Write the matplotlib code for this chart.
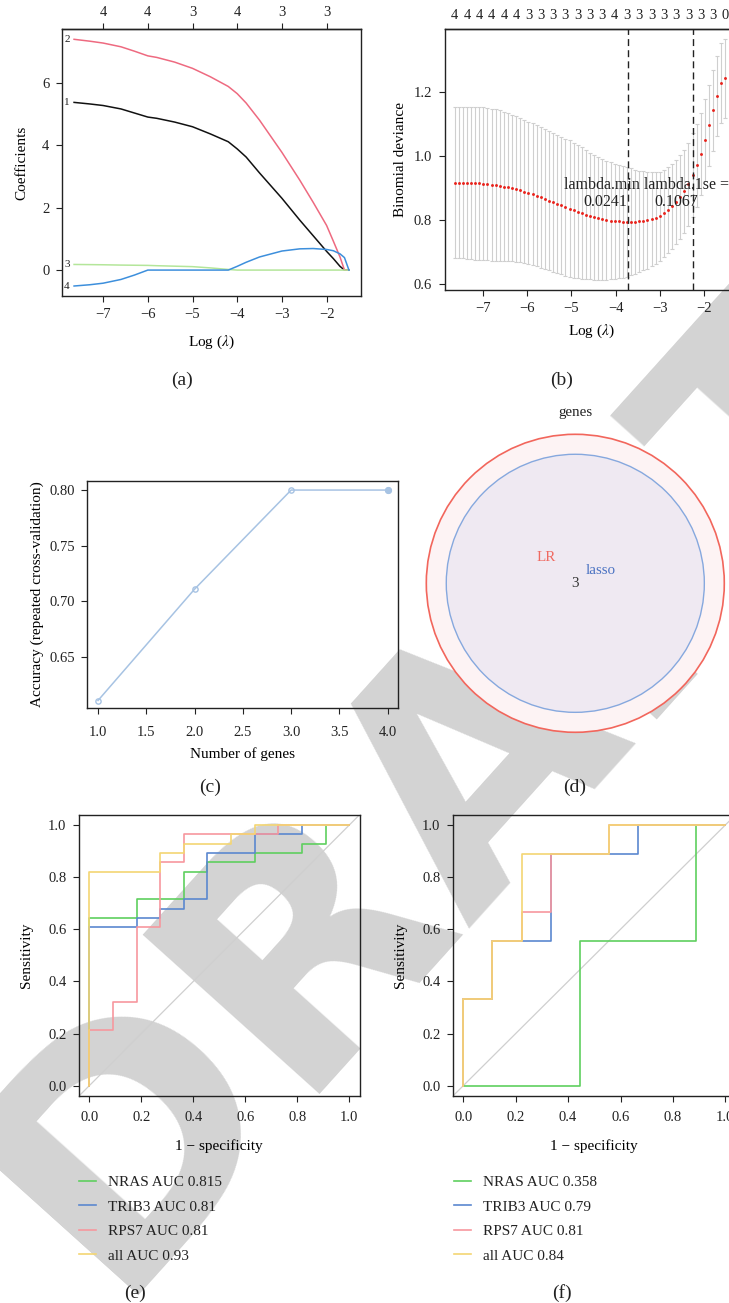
import numpy as np
import matplotlib
matplotlib.use("Agg")
import matplotlib.pyplot as plt
from matplotlib.patches import Circle
from matplotlib.lines import Line2D

W, H = 729, 1303

# (a) lasso coefficient paths
path_loglam = [-7.65, -7.3, -7.0, -6.6, -6.3, -6.0, -5.8, -5.4, -5.0, -4.6, -4.2, -4.0,
               -3.8, -3.5, -3.0, -2.6, -2.3, -2.0, -1.85, -1.7, -1.6, -1.55, -1.5]
coef_1 = [5.37, 5.32, 5.27, 5.16, 5.03, 4.90, 4.86, 4.74, 4.59, 4.36, 4.11, 3.88,
          3.62, 3.11, 2.30, 1.60, 1.10, 0.60, 0.37, 0.12, 0.0, 0.0, 0.0]
coef_2 = [7.39, 7.33, 7.27, 7.15, 7.01, 6.86, 6.81, 6.66, 6.46, 6.19, 5.88, 5.65,
          5.35, 4.80, 3.77, 2.88, 2.17, 1.43, 0.93, 0.42, 0.0, 0.0, 0.0]
coef_3 = [0.18, 0.175, 0.17, 0.16, 0.155, 0.15, 0.14, 0.125, 0.11, 0.07, 0.02, 0.0,
          0.0, 0.0, 0.0, 0.0, 0.0, 0.0, 0.0, 0.0, 0.0, 0.0, 0.0]
coef_4 = [-0.51, -0.47, -0.42, -0.30, -0.16, 0.0, 0.0, 0.0, 0.0, 0.0, 0.0, 0.12,
          0.25, 0.42, 0.61, 0.68, 0.69, 0.66, 0.62, 0.52, 0.40, 0.20, 0.0]
path_df_at = [-7, -6, -5, -4, -3, -2]
path_df = ["4", "4", "3", "4", "3", "3"]

# (b) cross-validated binomial deviance
cv_loglam = [-7.649, -7.556, -7.463, -7.370, -7.277, -7.184, -7.091, -6.998, -6.905, -6.812,
             -6.719, -6.626, -6.533, -6.440, -6.347, -6.254, -6.161, -6.068, -5.975, -5.882,
             -5.789, -5.696, -5.603, -5.510, -5.417, -5.324, -5.231, -5.138, -5.045, -4.952,
             -4.859, -4.766, -4.673, -4.580, -4.487, -4.394, -4.301, -4.208, -4.115, -4.022,
             -3.929, -3.836, -3.743, -3.650, -3.557, -3.464, -3.371, -3.278, -3.185, -3.092,
             -2.999, -2.906, -2.813, -2.720, -2.627, -2.534, -2.441, -2.348, -2.255, -2.162,
             -2.069, -1.976, -1.883, -1.790, -1.697, -1.604, -1.511]
cv_mean = [0.917, 0.917, 0.917, 0.916, 0.916, 0.915, 0.915, 0.914, 0.913, 0.911,
           0.910, 0.908, 0.905, 0.903, 0.900, 0.897, 0.893, 0.889, 0.885, 0.881,
           0.876, 0.871, 0.866, 0.861, 0.856, 0.851, 0.846, 0.841, 0.836, 0.831,
           0.826, 0.822, 0.817, 0.813, 0.809, 0.806, 0.803, 0.800, 0.798, 0.797,
           0.796, 0.795, 0.795, 0.795, 0.795, 0.796, 0.798, 0.800, 0.803, 0.807,
           0.812, 0.821, 0.832, 0.844, 0.857, 0.873, 0.890, 0.912, 0.941, 0.971,
           1.007, 1.051, 1.096, 1.143, 1.188, 1.229, 1.243]
cv_se = [0.236, 0.236, 0.236, 0.237, 0.237, 0.238, 0.238, 0.238, 0.237, 0.237,
         0.236, 0.235, 0.233, 0.231, 0.229, 0.227, 0.225, 0.223, 0.222, 0.221,
         0.220, 0.219, 0.218, 0.218, 0.217, 0.216, 0.215, 0.214, 0.213, 0.211,
         0.208, 0.205, 0.201, 0.198, 0.195, 0.192, 0.189, 0.186, 0.183, 0.180,
         0.177, 0.174, 0.171, 0.167, 0.163, 0.159, 0.155, 0.151, 0.147, 0.143,
         0.140, 0.137, 0.135, 0.133, 0.132, 0.131, 0.130, 0.130, 0.130, 0.130,
         0.129, 0.128, 0.127, 0.126, 0.125, 0.124, 0.124]
# nonzero counts shown for every third lambda
cv_nz = ["4", "4", "4", "4", "4", "4", "3", "3", "3", "3", "3", "3", "3",
         "4", "3", "3", "3", "3", "3", "3", "3", "3", "0"]
lambda_min = 0.0241
lambda_1se = 0.1067

# (c) recursive feature elimination
n_genes = [1, 2, 3, 4]
accuracy = [0.611, 0.711, 0.800, 0.800]

# (d) gene sets
set_names = ["LR", "lasso"]
set_sizes = [4, 3]
overlap = 3

# (e) training ROC, counts of false / true positives at each corner
roc_e_neg, roc_e_pos = 11, 28
roc_e = {
    "NRAS": ([0, 0, 2, 2, 4, 4, 5, 5, 7, 7, 9, 9, 10, 10, 11],
             [0, 18, 18, 20, 20, 23, 23, 24, 24, 25, 25, 26, 26, 28, 28]),
    "TRIB3": ([0, 0, 2, 2, 3, 3, 4, 4, 5, 5, 7, 7, 9, 9, 11],
              [0, 17, 17, 18, 18, 19, 19, 20, 20, 25, 25, 27, 27, 28, 28]),
    "RPS7": ([0, 0, 1, 1, 2, 2, 3, 3, 4, 4, 8, 8, 11],
             [0, 6, 6, 9, 9, 17, 17, 24, 24, 27, 27, 28, 28]),
    "all": ([0, 0, 3, 3, 4, 4, 6, 6, 7, 7, 11],
            [0, 23, 23, 25, 25, 26, 26, 27, 27, 28, 28]),
}
auc_e = ["0.815", "0.81", "0.81", "0.93"]

# (f) validation ROC
roc_f_neg, roc_f_pos = 9, 9
roc_f = {
    "NRAS": ([0, 4, 4, 8, 8, 9], [0, 0, 5, 5, 9, 9]),
    "TRIB3": ([0, 0, 1, 1, 3, 3, 6, 6, 9], [0, 3, 3, 5, 5, 8, 8, 9, 9]),
    "RPS7": ([0, 0, 1, 1, 2, 2, 3, 3, 5, 5, 9], [0, 3, 3, 5, 5, 6, 6, 8, 8, 9, 9]),
    "all": ([0, 0, 1, 1, 2, 2, 5, 5, 9], [0, 3, 3, 5, 5, 8, 8, 9, 9]),
}
auc_f = ["0.358", "0.79", "0.81", "0.84"]

roc_colors = ["#5fcf5f", "#5b88cf", "#f7979e", "#f4d673"]

plt.rcParams["font.family"] = ["Liberation Serif", "DejaVu Serif"]
plt.rcParams["mathtext.fontset"] = "stix"
plt.rcParams["axes.linewidth"] = 1.0
plt.rcParams["axes.edgecolor"] = "#222222"
plt.rcParams["xtick.color"] = "#222222"
plt.rcParams["ytick.color"] = "#222222"
plt.rcParams["text.color"] = "#222222"

TICK = 10.5
LAB = 11

fig = plt.figure(figsize=(W / 100, H / 100), dpi=100)

# watermark behind everything
fig.text(450 / W, 1 - 781 / H, "DRAFT", rotation=48, fontsize=235, color="#d3d3d3",
         family="DejaVu Sans", weight="bold", ha="center", va="center", zorder=-10)


def box(l, t, r, b):
    return [l / W, 1 - b / H, (r - l) / W, (b - t) / H]


def style(ax):
    ax.set_facecolor("none")
    ax.tick_params(labelsize=TICK, length=4, width=0.8, direction="out", pad=5)


# ---- (a) coefficient paths
ax = fig.add_axes(box(62, 29, 361, 296))
style(ax)
for c, col in zip([coef_1, coef_2, coef_3, coef_4], ["#111111", "#ee6a80", "#b4e69a", "#3d8fdc"]):
    ax.plot(path_loglam, c, color=col, lw=1.1)
for i, c in enumerate([coef_1, coef_2, coef_3, coef_4]):
    ax.text(-7.81, c[0], str(i + 1), fontsize=8, ha="center", va="center")
ax.set_xlim(-7.92, -1.23)
ax.set_ylim(-0.83, 7.72)
ax.set_xticks([-7, -6, -5, -4, -3, -2])
ax.set_yticks([0, 2, 4, 6])
ax.set_xlabel(r"Log ($\lambda$)", fontsize=LAB, labelpad=9)
ax.set_ylabel("Coefficients", fontsize=LAB, labelpad=10)
top = ax.secondary_xaxis("top")
top.set_xticks(path_df_at, labels=path_df)
top.tick_params(labelsize=TICK, length=4, width=0.8)

# ---- (b) cross-validation curve
ax = fig.add_axes(box(444.7, 29, 739, 290))
style(ax)
ax.errorbar(cv_loglam, cv_mean, yerr=cv_se, fmt="none", ecolor="#cfcfcf",
            elinewidth=0.8, capsize=1.6, capthick=0.8)
ax.plot(cv_loglam, cv_mean, "o", color="#e8231c", ms=2.1, mew=0)
for lam in [lambda_min, lambda_1se]:
    ax.axvline(np.log(lam), color="#222222", ls=(0, (5, 3)), lw=1.0)
ax.text(np.log(lambda_min) - 1.45, 0.91, "lambda.min lambda.1se =", fontsize=11.5, va="center")
ax.text(np.log(lambda_min), 0.856, f"{lambda_min:.4f}", fontsize=11.5, va="center", ha="right")
ax.text(np.log(lambda_1se) + 0.1, 0.856, f"{lambda_1se:.4f}", fontsize=11.5, va="center", ha="right")
ax.set_xlim(-7.875, -1.202)
ax.set_ylim(0.582, 1.397)
ax.set_xticks([-7, -6, -5, -4, -3, -2])
ax.set_yticks([0.6, 0.8, 1.0, 1.2])
ax.set_xlabel(r"Log ($\lambda$)", fontsize=LAB, labelpad=5)
ax.set_ylabel("Binomial deviance", fontsize=LAB, labelpad=5)
top = ax.secondary_xaxis("top")
top.set_xticks(cv_loglam[::3], labels=cv_nz)
top.tick_params(labelsize=TICK, length=0, pad=5)

# ---- (c) accuracy vs number of genes
ax = fig.add_axes(box(87.3, 480.7, 398.3, 708.3))
style(ax)
ax.tick_params(axis="x", pad=9)
ax.plot(n_genes, accuracy, color="#a7c3e3", lw=1.1, marker="o", ms=3.8,
        mfc="none", mec="#a7c3e3", mew=1.0)
best = int(np.argmax(accuracy[::-1]))
ax.plot(n_genes[-1 - best], accuracy[-1 - best], "o", color="#a7c3e3", ms=4.2)
ax.set_xlim(0.889, 4.11)
ax.set_ylim(0.604, 0.8084)
ax.set_xticks([1.0, 1.5, 2.0, 2.5, 3.0, 3.5, 4.0])
ax.set_yticks([0.65, 0.70, 0.75, 0.80])
ax.xaxis.set_major_formatter("{x:.1f}")
ax.yaxis.set_major_formatter("{x:.2f}")
ax.set_xlabel("Number of genes", fontsize=LAB, labelpad=6)
ax.set_ylabel("Accuracy (repeated cross-validation)", fontsize=LAB, labelpad=4)

# ---- (d) Venn diagram (opaque fills)
ax = fig.add_axes(box(575.3 - 160, 583.3 - 160, 575.3 + 160, 583.3 + 160))
ax.set_facecolor("none")
ax.set_xlim(-1, 1)
ax.set_ylim(-1, 1)
ax.set_aspect("equal")
ax.axis("off")
k = 0.4656
ax.add_patch(Circle((0, 0), k * np.sqrt(set_sizes[0]), facecolor="#fdf3f4",
                    edgecolor="#f2665c", lw=1.2))
ax.add_patch(Circle((0, 0), k * np.sqrt(set_sizes[1]), facecolor="#efe9f2",
                    edgecolor="#86a8de", lw=1.0))
ax.text(0, 1.07, "genes", fontsize=10.8, ha="center", va="center")
ax.text(-0.183, 0.164, set_names[0], fontsize=10.8, color="#ef6a62", ha="center", va="center")
ax.text(0.16, 0.083, set_names[1], fontsize=10.8, color="#4a72c2", ha="center", va="center")
ax.text(0, 0, str(overlap), fontsize=10.8, color="#333333", ha="center", va="center")


# ---- (e), (f) ROC curves
def roc_panel(rect, curves, n_neg, n_pos, aucs, legend_xy):
    ax = fig.add_axes(rect)
    style(ax)
    ax.tick_params(axis="x", pad=7)
    ax.plot([-0.1, 1.1], [-0.1, 1.1], color="#cfcfcf", lw=0.9)
    handles = []
    for (name, (fp, tp)), col, auc in zip(curves.items(), roc_colors, aucs):
        ax.plot(np.array(fp) / n_neg, np.array(tp) / n_pos, color=col, lw=1.2)
        handles.append(Line2D([], [], color=col, lw=1.2, label=f"{name} AUC {auc}"))
    ax.set_xlim(-0.04, 1.04)
    ax.set_ylim(-0.04, 1.04)
    ax.set_xticks([0, 0.2, 0.4, 0.6, 0.8, 1.0])
    ax.set_yticks([0, 0.2, 0.4, 0.6, 0.8, 1.0])
    ax.xaxis.set_major_formatter("{x:.1f}")
    ax.yaxis.set_major_formatter("{x:.1f}")
    ax.set_xlabel("1 \u2212 specificity", fontsize=LAB, labelpad=11)
    ax.set_ylabel("Sensitivity", fontsize=LAB, labelpad=11)
    ax.legend(handles=handles, loc="upper left", bbox_to_anchor=legend_xy,
              bbox_transform=fig.transFigure, frameon=False, fontsize=11,
              handlelength=1.15, handletextpad=0.75, labelspacing=0.7, borderpad=0)
    return ax


roc_panel(box(78.9, 814.6, 359.7, 1096.1), roc_e, roc_e_neg, roc_e_pos, auc_e,
          (71 / W, 1 - 1168 / H))
roc_panel(box(452.8, 814.6, 735.8, 1096.1), roc_f, roc_f_neg, roc_f_pos, auc_f,
          (446 / W, 1 - 1168 / H))

# panel captions
for lab, x, y in [("(a)", 182, 380), ("(b)", 562, 380), ("(c)", 210, 787),
                  ("(d)", 575, 787), ("(e)", 135, 1293), ("(f)", 562, 1293)]:
    fig.text(x / W, 1 - y / H, lab, fontsize=14, ha="center", va="center")

fig.savefig("out.png", dpi=100)
